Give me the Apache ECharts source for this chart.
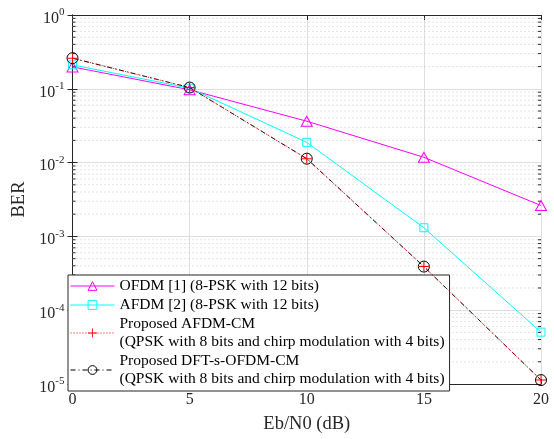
<!DOCTYPE html>
<html><head><meta charset="utf-8">
<script src="https://cdn.jsdelivr.net/npm/echarts@6/dist/echarts.min.js"></script>
<style>html,body{margin:0;padding:0;background:#fff}#c{width:554px;height:439px}</style>
</head><body><div id="c"></div>
<script>
const snr = [0, 5, 10, 15, 20];
const berOFDM = [0.198, 0.097, 0.0364, 0.0118, 0.00262];
const berAFDM = [0.211, 0.102, 0.0188, 0.00131, 5.04e-5];
const berAFDMCM = [0.26, 0.104, 0.0113, 0.00039, 1.13e-5];
const berDFTsCM = [0.26, 0.104, 0.0113, 0.00039, 1.13e-5];
const names = [
  'OFDM [1] (8-PSK with 12 bits)',
  'AFDM [2] (8-PSK with 12 bits)',
  'Proposed AFDM-CM\n(QPSK with 8 bits and chirp modulation with 4 bits)',
  'Proposed DFT-s-OFDM-CM\n(QPSK with 8 bits and chirp modulation with 4 bits)'
];
const xTicks = [0, 5, 10, 15, 20];
const decades = [-5, -4, -3, -2, -1];
const mantissas = [2, 3, 4, 5, 6, 7, 8, 9];

const minorVals = [];
decades.forEach(d => mantissas.forEach(m => minorVals.push([0, m * Math.pow(10, d)])));

const FONT = 'Liberation Serif';
const AX = '#262626';
const pair = (arr) => snr.map((x, i) => [x, arr[i]]);
const plusPath = 'path://M4.5,0H5.5V10H4.5Z M0,4.5H10V5.5H0Z';

const chart = echarts.init(document.getElementById('c'), null, {renderer: 'canvas'});
chart.setOption({
  animation: false,
  backgroundColor: '#fff',
  textStyle: {fontFamily: FONT},
  grid: {left: 72.5, right: 13, top: 15, bottom: 54, containLabel: false},
  xAxis: [{
    type: 'value', min: 0, max: 20, interval: 5, position: 'bottom',
    name: 'Eb/N0 (dB)', nameLocation: 'middle', nameGap: 31,
    nameTextStyle: {fontFamily: FONT, fontSize: 18.5, color: AX},
    axisLine: {show: true, lineStyle: {color: AX, width: 1}},
    axisTick: {show: true, inside: true, length: 5, lineStyle: {color: AX}},
    axisLabel: {fontFamily: FONT, fontSize: 16, color: AX, margin: 8,
      formatter: v => xTicks.includes(v) ? String(v) : ''},
    splitLine: {show: true, lineStyle: {color: '#dedede', width: 1}}
  }, {
    type: 'value', min: 0, max: 20, interval: 5, position: 'top',
    axisLine: {show: true, lineStyle: {color: AX, width: 1}},
    axisTick: {show: true, inside: true, length: 5, lineStyle: {color: AX}},
    axisLabel: {show: false}, splitLine: {show: false}
  }],
  yAxis: [{
    type: 'log', logBase: 10, min: 1e-5, max: 1, position: 'left',
    name: 'BER', nameLocation: 'middle', nameGap: 43, nameRotate: 90,
    nameTextStyle: {fontFamily: FONT, fontSize: 18.5, color: AX},
    axisLine: {show: true, lineStyle: {color: AX, width: 1}},
    axisTick: {show: true, inside: true, length: 5, lineStyle: {color: AX}},
    axisLabel: {
      margin: 8, color: AX, fontFamily: FONT,
      formatter: v => '{b|10}{s|' + Math.round(Math.log10(v)) + '}',
      rich: {
        b: {fontFamily: FONT, fontSize: 16, color: AX, padding: [7, 0, 0, 0]},
        s: {fontFamily: FONT, fontSize: 11, color: AX, padding: [0, 0, 5, 0]}
      }
    },
    splitLine: {show: true, lineStyle: {color: '#dedede', width: 1}}
  }, {
    type: 'log', logBase: 10, min: 1e-5, max: 1, position: 'right',
    axisLine: {show: true, lineStyle: {color: AX, width: 1}},
    axisTick: {show: true, inside: true, length: 5, lineStyle: {color: AX}},
    axisLabel: {show: false}, splitLine: {show: false}
  }],
  legend: {
    orient: 'vertical', left: 68, top: 275,
    data: names,
    padding: [2, 5, 3, 2], itemGap: 1, itemWidth: 44, itemHeight: 11,
    backgroundColor: '#fff', borderColor: AX, borderWidth: 1, borderRadius: 0,
    lineStyle: {width: 1},
    itemStyle: {borderWidth: 1},
    textStyle: {fontFamily: FONT, fontSize: 15.5, color: '#000', lineHeight: 18},
    selectedMode: false
  },
  series: [
    {
      type: 'custom', silent: true, z: 1, xAxisIndex: 0, yAxisIndex: 0,
      data: minorVals,
      renderItem: (params, api) => {
        const v = api.value(1);
        const a = api.coord([0, v]);
        const b = api.coord([20, v]);
        return {type: 'group', children: [
          {type: 'line', shape: {x1: a[0], y1: a[1], x2: b[0], y2: b[1]},
           style: {stroke: '#c8c8c8', lineWidth: 1, lineDash: [1, 3]}},
          {type: 'line', shape: {x1: a[0], y1: a[1], x2: a[0] + 3, y2: a[1]},
           style: {stroke: AX, lineWidth: 1}},
          {type: 'line', shape: {x1: b[0] - 3, y1: b[1], x2: b[0], y2: b[1]},
           style: {stroke: AX, lineWidth: 1}}
        ]};
      }
    },
    {
      name: names[0], type: 'line', data: pair(berOFDM), z: 3,
      symbol: 'triangle', symbolSize: [11, 10],
      lineStyle: {color: '#ff00ff', width: 1},
      itemStyle: {color: 'rgba(255,255,255,0)', borderColor: '#ff00ff', borderWidth: 1}
    },
    {
      name: names[1], type: 'line', data: pair(berAFDM), z: 3,
      symbol: 'rect', symbolSize: 8,
      lineStyle: {color: '#00ffff', width: 1},
      itemStyle: {color: 'rgba(255,255,255,0)', borderColor: '#00ffff', borderWidth: 1}
    },
    {
      name: names[2], type: 'line', data: pair(berAFDMCM), z: 5,
      symbol: plusPath, symbolSize: 10,
      lineStyle: {color: '#ff0000', width: 1, type: [1, 2]},
      itemStyle: {color: '#ff0000', borderWidth: 0}
    },
    {
      name: names[3], type: 'line', data: pair(berDFTsCM), z: 4,
      symbol: 'circle', symbolSize: 11,
      lineStyle: {color: '#000', width: 1, type: [5, 3, 1, 3]},
      itemStyle: {color: 'rgba(255,255,255,0)', borderColor: '#000', borderWidth: 1}
    }
  ]
});
</script></body></html>
